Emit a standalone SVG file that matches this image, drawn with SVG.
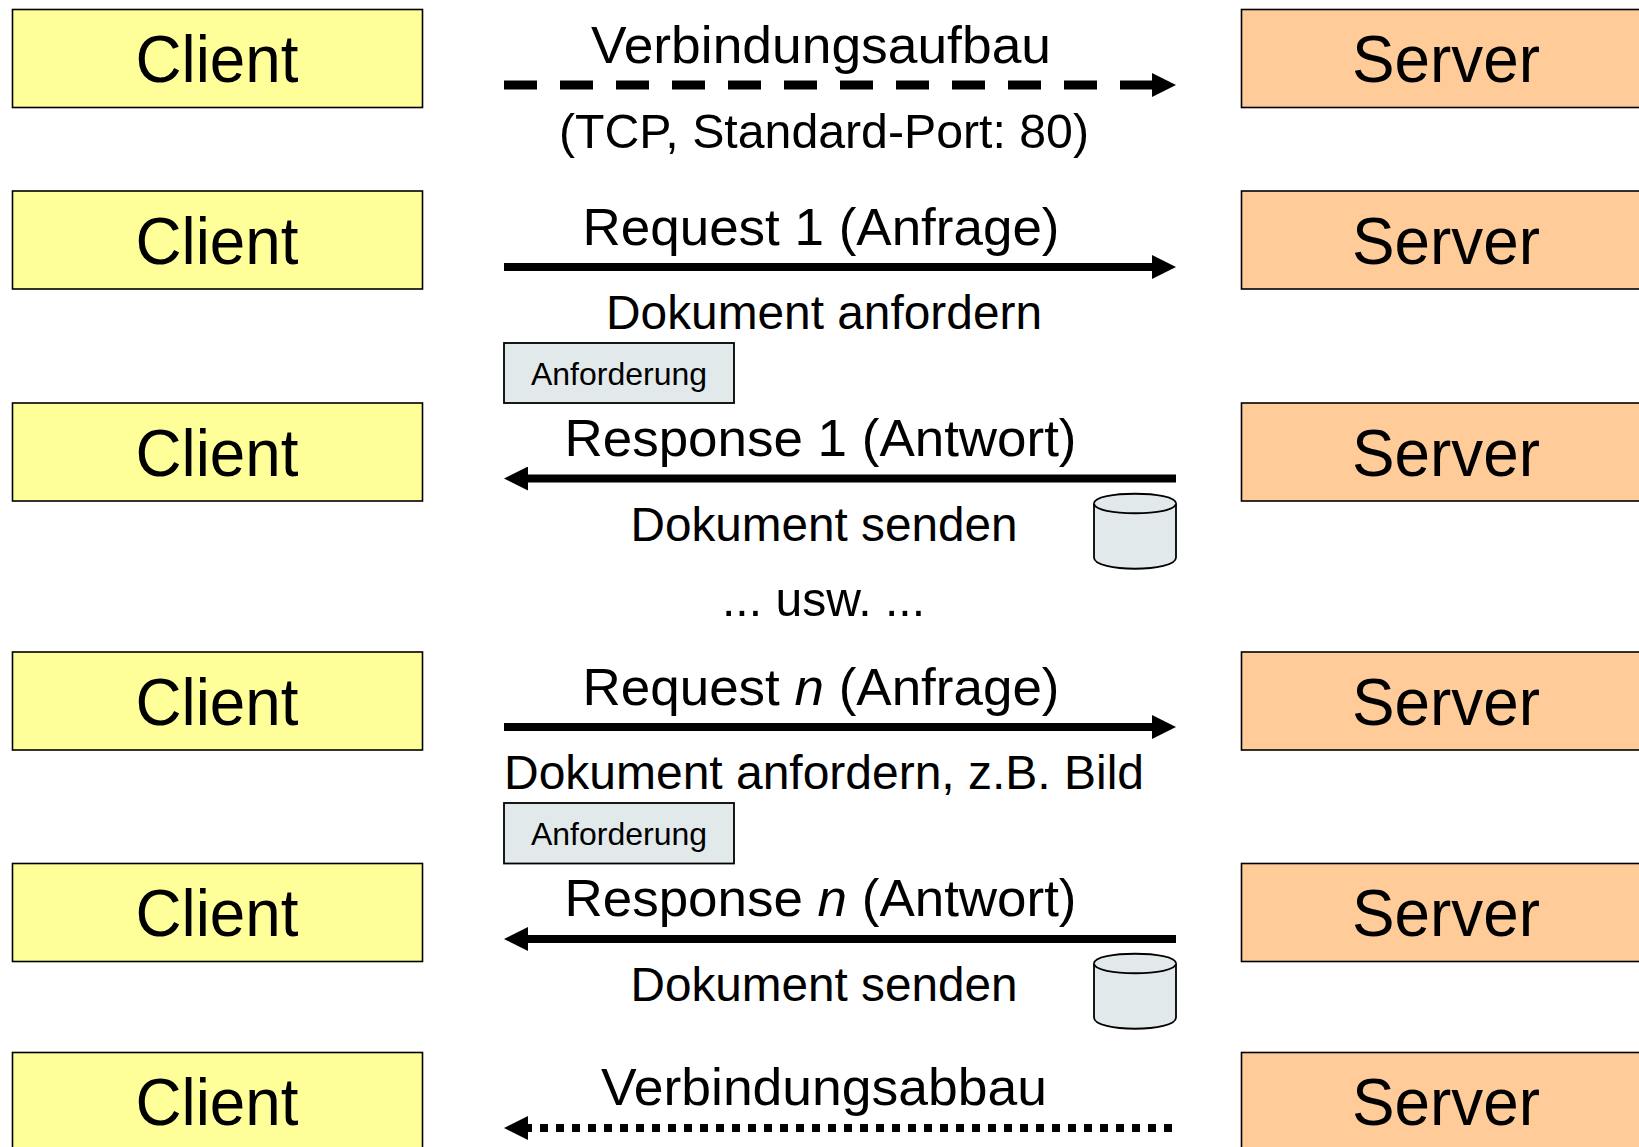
<svg xmlns="http://www.w3.org/2000/svg" width="1639" height="1147" viewBox="0 0 1639 1147">
<style>
text{font-family:"Liberation Sans",Arial,sans-serif;fill:#000;text-anchor:middle}
.c{fill:#ffff99;stroke:#000;stroke-width:1.6}
.s{fill:#ffcc99;stroke:#000;stroke-width:1.6}
.n{font-size:66px}
.l{font-size:52px}
.m{font-size:48px}
.d{fill:#e2e9eb;stroke:#000;stroke-width:1.8}
.t{font-size:32px}
.a{fill:none;stroke:#000;stroke-width:8}
</style>
<defs>
<marker id="h" markerUnits="userSpaceOnUse" markerWidth="24" markerHeight="24" refX="0" refY="12" orient="auto"><path d="M0 0L24 12L0 24Z" fill="#000"/></marker>
<g id="cyl"><path class="d" d="M0 10C0 -3 82 -3 82 10V64C82 79 0 79 0 64Z"/><path class="d" fill="none" d="M0 10C0 23 82 23 82 10"/></g>
</defs>
<g id="client1"><rect class="c" x="12.5" y="9.5" width="410" height="98"/><text class="n" x="217" y="82" textLength="163" lengthAdjust="spacingAndGlyphs">Client</text></g>
<g id="client2"><rect class="c" x="12.5" y="191" width="410" height="98"/><text class="n" x="217" y="264" textLength="163" lengthAdjust="spacingAndGlyphs">Client</text></g>
<g id="client3"><rect class="c" x="12.5" y="403" width="410" height="98"/><text class="n" x="217" y="476" textLength="163" lengthAdjust="spacingAndGlyphs">Client</text></g>
<g id="client4"><rect class="c" x="12.5" y="652" width="410" height="98"/><text class="n" x="217" y="725" textLength="163" lengthAdjust="spacingAndGlyphs">Client</text></g>
<g id="client5"><rect class="c" x="12.5" y="863.500" width="410" height="98"/><text class="n" x="217" y="936" textLength="163" lengthAdjust="spacingAndGlyphs">Client</text></g>
<g id="client6"><rect class="c" x="12.5" y="1052.500" width="410" height="98"/><text class="n" x="217" y="1125" textLength="163" lengthAdjust="spacingAndGlyphs">Client</text></g>
<g id="server1"><rect class="s" x="1241.500" y="9.5" width="410" height="98"/><text class="n" x="1446" y="82" textLength="188" lengthAdjust="spacingAndGlyphs">Server</text></g>
<g id="server2"><rect class="s" x="1241.500" y="191" width="410" height="98"/><text class="n" x="1446" y="264" textLength="188" lengthAdjust="spacingAndGlyphs">Server</text></g>
<g id="server3"><rect class="s" x="1241.500" y="403" width="410" height="98"/><text class="n" x="1446" y="476" textLength="188" lengthAdjust="spacingAndGlyphs">Server</text></g>
<g id="server4"><rect class="s" x="1241.500" y="652" width="410" height="98"/><text class="n" x="1446" y="725" textLength="188" lengthAdjust="spacingAndGlyphs">Server</text></g>
<g id="server5"><rect class="s" x="1241.500" y="863.500" width="410" height="98"/><text class="n" x="1446" y="936" textLength="188" lengthAdjust="spacingAndGlyphs">Server</text></g>
<g id="server6"><rect class="s" x="1241.500" y="1052.500" width="410" height="98"/><text class="n" x="1446" y="1125" textLength="188" lengthAdjust="spacingAndGlyphs">Server</text></g>
<g id="connectors">
<line class="a" style="stroke-width:9" x1="504" y1="85" x2="1152" y2="85" stroke-dasharray="33 23" marker-end="url(#h)"/>
<line class="a" x1="504" y1="267" x2="1152" y2="267" marker-end="url(#h)"/>
<line class="a" x1="1176" y1="478.500" x2="528" y2="478.500" marker-end="url(#h)"/>
<line class="a" x1="504" y1="727" x2="1152" y2="727" marker-end="url(#h)"/>
<line class="a" x1="1176" y1="939" x2="528" y2="939" marker-end="url(#h)"/>
<line class="a" x1="1172" y1="1128" x2="528" y2="1128" stroke-dasharray="8 8" marker-end="url(#h)"/>
</g>
<g id="labels">
<text class="l" x="821" y="63" textLength="460" lengthAdjust="spacingAndGlyphs">Verbindungsaufbau</text>
<text class="m" x="824" y="148" textLength="530" lengthAdjust="spacingAndGlyphs">(TCP, Standard-Port: 80)</text>
<text class="l" x="821" y="245" textLength="477" lengthAdjust="spacingAndGlyphs">Request 1 (Anfrage)</text>
<text class="m" x="824" y="329" textLength="436" lengthAdjust="spacingAndGlyphs">Dokument anfordern</text>
<text class="l" x="820.500" y="456" textLength="512" lengthAdjust="spacingAndGlyphs">Response 1 (Antwort)</text>
<text class="m" x="824" y="541" textLength="387" lengthAdjust="spacingAndGlyphs">Dokument senden</text>
<text class="m" x="823.500" y="616" textLength="203" lengthAdjust="spacingAndGlyphs">... usw. ...</text>
<text class="l" x="821" y="705" textLength="477" lengthAdjust="spacingAndGlyphs">Request <tspan font-style="italic">n</tspan> (Anfrage)</text>
<text class="m" x="824" y="789" textLength="640" lengthAdjust="spacingAndGlyphs">Dokument anfordern, z.B. Bild</text>
<text class="l" x="820.500" y="916" textLength="512" lengthAdjust="spacingAndGlyphs">Response <tspan font-style="italic">n</tspan> (Antwort)</text>
<text class="m" x="824" y="1001" textLength="387" lengthAdjust="spacingAndGlyphs">Dokument senden</text>
<text class="l" x="824" y="1105" textLength="446" lengthAdjust="spacingAndGlyphs">Verbindungsabbau</text>
</g>
<g id="request1"><rect class="d" x="504" y="343" width="230" height="60"/><text class="t" x="619" y="385" textLength="176" lengthAdjust="spacingAndGlyphs">Anforderung</text></g>
<g id="requestn"><rect class="d" x="504" y="803" width="230" height="60.500"/><text class="t" x="619" y="845" textLength="176" lengthAdjust="spacingAndGlyphs">Anforderung</text></g>
<g id="doc1"><use href="#cyl" x="1094" y="493.500"/></g>
<g id="docn"><use href="#cyl" x="1094" y="953.500"/></g>
</svg>
